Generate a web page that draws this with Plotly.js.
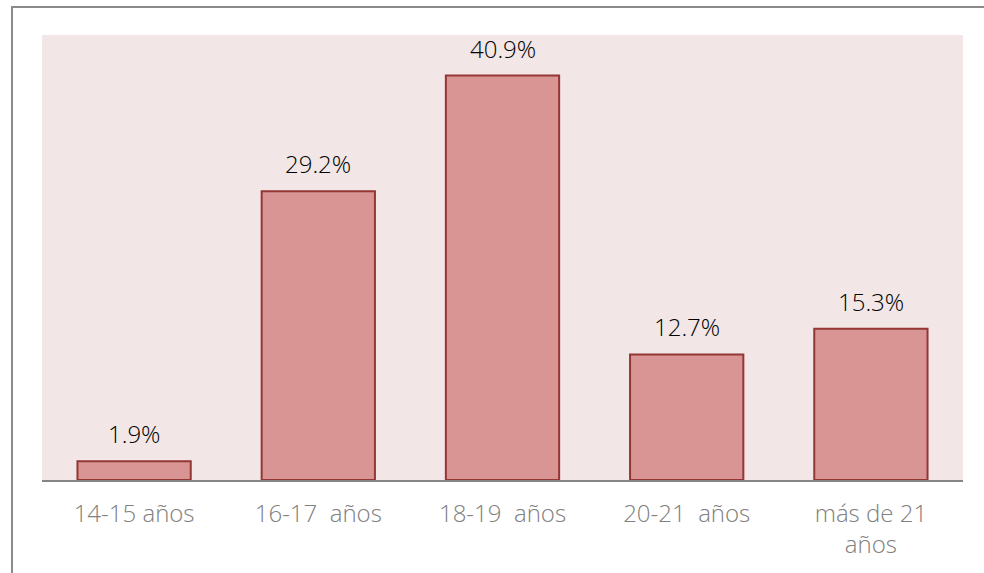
<!DOCTYPE html>
<html>
<head>
<meta charset="utf-8">
<script src="https://cdn.plot.ly/plotly-3.0.1.min.js"></script>
<style>
  html, body { margin: 0; padding: 0; background: #ffffff; }
  #chart { position: absolute; left: 0; top: 0; width: 984px; height: 573px; }
  #frame { position: absolute; left: 11px; top: 6px; width: 980px; height: 570px;
           border-top: 2px solid #8a8a8a; border-left: 2px solid #8a8a8a; pointer-events: none; }
</style>
</head>
<body>
<div id="chart"></div>
<div id="frame"></div>
<script>
const categories = ["14-15 años", "16-17\u00a0 años", "18-19\u00a0 años", "20-21\u00a0 años", "más de 21<br>años"];
const values = [1.9, 29.2, 40.9, 12.7, 15.3];
const valueLabels = ["1.9%", "29.2%", "40.9%", "12.7%", "15.3%"];

const FONT = "Open Sans, Noto Sans, sans-serif";

const trace = {
  type: "bar",
  x: categories,
  y: values,
  marker: { color: "#D99594", line: { color: "#943634", width: 2 } },
  hoverinfo: "none"
};

const annotations = categories.map((c, i) => ({
  x: c, y: values[i], xref: "x", yref: "y",
  text: valueLabels[i], showarrow: false,
  yanchor: "bottom", yshift: 9,
  font: { family: FONT, size: 24, color: "#000000", weight: 300 }
}));

const layout = {
  width: 984, height: 573,
  margin: { l: 42, r: 21, t: 35, b: 93 },
  paper_bgcolor: "rgba(0,0,0,0)",
  plot_bgcolor: "#F2E7E6",
  bargap: 0.385,
  showlegend: false,
  xaxis: {
    type: "category",
    showline: true, linecolor: "#868686", linewidth: 2,
    ticks: "", ticklabelstandoff: 11,
    tickfont: { family: FONT, size: 24, color: "#808080", weight: 300 },
    showgrid: false, zeroline: false
  },
  yaxis: {
    range: [0, 45], visible: false, showgrid: false, zeroline: false, fixedrange: true
  },
  annotations: annotations
};

Plotly.newPlot("chart", [trace], layout, { staticPlot: true, displayModeBar: false });
</script>
</body>
</html>
